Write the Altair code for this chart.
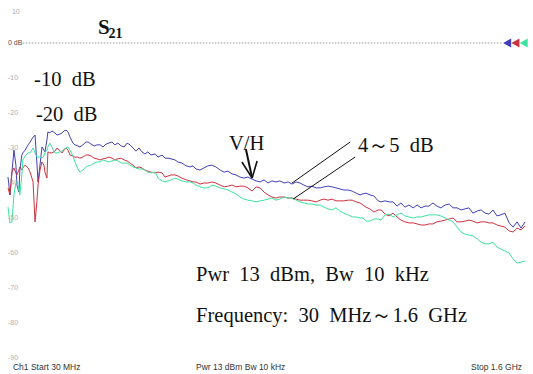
import altair as alt
import pandas as pd

# Swept frequency points (MHz) shared by the three S21 traces
freq_mhz = [
    33, 39, 45, 51, 57, 60, 66, 69, 75, 78,
    85, 94, 100, 109, 115, 121, 124, 130, 136, 142,
    145, 151, 154, 160, 166, 175, 182, 191, 197, 203,
    209, 215, 221, 230, 236, 245, 251, 260, 269, 276,
    285, 294, 303, 312,
    321, 330, 339, 348, 357, 366, 376, 385, 394, 403, 412, 421, 430, 439, 448, 457, 466,
    479, 488, 500, 509, 518, 527, 539, 548, 560, 573, 585, 594, 603,
    615, 627, 639, 651, 663, 676, 688, 700, 712, 724, 736, 748, 760, 773, 785, 797,
    809, 821, 833, 845, 857, 870, 882, 894, 906, 918, 930, 942, 954, 967, 979, 991,
    1003, 1015, 1027, 1039, 1051, 1064, 1076, 1088, 1100,
    1109, 1118, 1130, 1142, 1155,
    1164, 1176, 1188, 1200, 1212, 1224, 1236, 1248, 1261, 1273, 1285, 1297, 1309, 1321,
    1333, 1345, 1358, 1370, 1382, 1394, 1406, 1418, 1430, 1442, 1455, 1467, 1479, 1491,
    1503, 1515, 1527, 1539, 1552, 1564, 1576, 1588, 1600,
]

# S21 magnitude (dB), blue trace
s21_blue = [
    -38.3, -43.4, -36.9, -30.6, -34.9, -40.6, -42.6, -36.3, -32.0, -31.4,
    -30.6, -29.1, -28.3, -26.9, -26.3, -34.9, -39.7, -34.9, -29.7, -30.6,
    -31.1, -27.7, -25.4, -25.7, -25.1, -25.7, -26.3, -26.0, -25.7, -25.1,
    -24.9, -25.4, -26.9, -28.6, -29.1, -29.4, -29.7, -29.1, -28.3, -28.3,
    -28.9, -29.4, -29.1, -29.1,
    -29.7, -28.9, -28.6, -28.3, -29.1, -28.6, -29.4, -29.7, -28.6, -29.1, -30.0, -30.9,
    -30.0, -31.1, -31.7, -31.1, -32.0,
    -31.7, -32.6, -32.0, -32.9, -32.9, -33.1, -33.4, -34.0, -34.3, -35.1, -35.4, -35.1, -36.0,
    -36.3, -35.7, -35.1, -34.9, -35.4, -36.3, -36.9, -36.6, -37.4, -37.7,
    -38.3, -38.6, -38.3, -38.9, -39.4, -39.7, -39.1, -40.0, -39.4, -39.7,
    -39.4, -40.0, -39.7, -40.3, -39.7, -40.0, -40.6, -41.1, -40.9, -41.4,
    -41.4, -41.1, -40.9, -41.1, -41.4, -41.7, -42.0, -42.0, -42.3, -42.9,
    -43.4,
    -43.1, -42.9, -43.4, -43.7, -45.1,
    -45.4, -45.1, -45.4, -45.4, -46.6, -45.7, -46.9, -46.3, -47.1, -46.3,
    -47.1, -46.6, -46.6, -45.7, -46.6, -47.1, -46.3, -46.0, -47.1, -47.1,
    -47.7, -47.4, -47.1, -48.6, -48.0, -47.7, -48.6, -48.9, -47.7, -49.4,
    -49.1, -48.6, -51.4, -52.6, -51.1, -52.9, -51.1,
]

# S21 magnitude (dB), red trace
s21_red = [
    -41.4, -43.4, -36.9, -35.7, -37.1, -37.7, -36.3, -35.4, -36.3, -35.7,
    -34.9, -35.7, -36.9, -39.7, -51.1, -44.9, -40.6, -36.3, -34.0, -34.9,
    -36.9, -38.6, -31.1, -31.4, -31.4, -30.9, -30.0, -30.9, -31.4, -30.6,
    -30.0, -30.6, -32.0, -32.3, -32.6, -32.6, -32.9, -32.6, -32.0, -32.0,
    -32.3, -32.9, -33.1, -33.4,
    -33.1, -32.9, -32.6, -32.9, -33.4, -33.1, -32.9, -33.4, -33.7, -34.3, -34.9, -35.7,
    -35.4, -35.7, -36.3, -36.6, -36.9,
    -37.1, -36.9, -37.1, -38.3, -38.0, -37.7, -37.7, -38.0, -38.6, -39.1, -39.4, -39.7, -39.7,
    -40.3, -40.0, -40.0, -39.7, -40.0, -40.6, -41.1, -40.9, -40.6, -41.1,
    -40.9, -40.9, -41.4, -42.3, -41.1, -41.4, -42.6, -43.4, -44.0, -44.3,
    -44.0, -44.0, -44.3, -44.3, -44.6, -44.9, -44.9, -44.9, -45.1, -45.4,
    -44.9, -44.6, -44.9, -44.6, -45.1, -45.1, -45.1, -44.9, -44.9, -45.4,
    -45.7,
    -46.3, -46.9, -47.4, -48.3, -47.7,
    -47.7, -48.9, -49.4, -48.6, -49.7, -50.6, -51.1, -51.4, -51.4, -51.7,
    -52.0, -52.0, -51.7, -51.7, -51.1, -50.9, -50.6, -50.3, -50.0, -51.1,
    -51.1, -50.9, -50.6, -50.9, -51.4, -51.1, -51.1, -51.4, -51.4, -52.0,
    -52.3, -52.6, -53.7, -54.0, -52.9, -53.4, -52.3,
]

# S21 magnitude (dB), green trace
s21_green = [
    -46.9, -51.4, -51.1, -43.4, -40.0, -39.7, -42.0, -43.4, -37.7, -33.4,
    -32.3, -31.4, -31.4, -30.0, -31.4, -32.6, -32.6, -32.6, -32.9, -32.3,
    -31.4, -30.6, -29.7, -28.6, -29.7, -31.4, -31.4, -31.1, -30.9, -30.3,
    -30.0, -29.7, -30.6, -32.3, -34.0, -36.0, -36.9, -36.3, -35.4, -35.1,
    -34.9, -34.3, -34.0, -34.0,
    -33.4, -33.7, -34.0, -33.7, -33.4, -33.7, -34.3, -34.3, -34.3, -34.9, -35.4, -35.7,
    -36.0, -36.0, -36.3, -36.9, -37.1,
    -36.9, -38.6, -39.4, -39.7, -39.4, -39.1, -38.6, -38.9, -39.4, -39.7, -39.7, -40.0, -40.6,
    -41.1, -41.4, -41.4, -40.6, -40.9, -41.4, -41.7, -42.0, -42.6, -43.1,
    -44.0, -44.6, -44.9, -45.1, -45.4, -45.1, -44.9, -44.6, -44.3, -44.9,
    -44.6, -44.0, -44.3, -44.3, -44.9, -45.4, -45.7, -46.0, -46.0, -46.3,
    -46.3, -46.9, -47.4, -47.7, -47.1, -48.0, -48.6, -49.1, -49.7, -49.7,
    -50.0,
    -50.0, -50.9, -50.9, -50.3, -50.3,
    -50.6, -49.1, -48.9, -49.7, -49.1, -48.6, -49.4, -49.7, -50.0, -49.7,
    -49.7, -49.4, -49.1, -49.1, -49.1, -49.4, -50.0, -50.6, -51.1, -52.6,
    -54.0, -54.6, -54.9, -55.1, -56.0, -56.9, -57.4, -57.4, -56.9, -58.3,
    -58.9, -59.4, -60.0, -61.7, -62.9, -62.6, -62.3,
]

trace_names = ["Trace 1", "Trace 2", "Trace 3"]
trace_colors = ["#4040b8", "#cc3340", "#3ee2a0"]

# Graticule
db_ticks = [10, 0, -10, -20, -30, -40, -50, -60, -70, -80, -90]
db_tick_labels = ["10", "0 dB", "-10", "-20", "-30", "-40", "-50", "-60", "-70", "-80", "-90"]
freq_ticks = [30, 187, 344, 501, 658, 815, 972, 1129, 1286, 1443, 1600]

assert len(freq_mhz) == len(s21_blue) == len(s21_red) == len(s21_green)

rows = []
for name, series in zip(trace_names, [s21_blue, s21_red, s21_green]):
    for f, v in zip(freq_mhz, series):
        rows.append({"freq": f, "db": v, "trace": name})
traces = pd.DataFrame(rows)

x_scale = alt.Scale(domain=[30, 1600], nice=False, zero=False)
y_scale = alt.Scale(domain=[-90, 10], nice=False, zero=False)
color_scale = alt.Scale(domain=trace_names, range=trace_colors)

trace_layer = alt.Chart(traces).mark_line(strokeWidth=1, clip=False).encode(
    x=alt.X("freq:Q", scale=x_scale,
            axis=alt.Axis(values=freq_ticks, grid=True, labels=False, ticks=False,
                          domain=False, title=None, gridColor="#dcdcdc", gridWidth=1)),
    y=alt.Y("db:Q", scale=y_scale,
            axis=alt.Axis(values=db_ticks, grid=True, labels=False, ticks=False,
                          domain=False, title=None, gridColor="#dcdcdc", gridWidth=1)),
    color=alt.Color("trace:N", scale=color_scale, legend=None),
    order=alt.Order("freq:Q"),
)

# Reference level (dotted) and channel markers at 0 dB
ref_df = pd.DataFrame({"f1": [78], "f2": [1533], "db": [0]})
ref_line = alt.Chart(ref_df).mark_rule(color="#9a9a9a", strokeDash=[1.5, 1.5], strokeWidth=1).encode(
    x=alt.X("f1:Q", scale=x_scale, axis=None), x2="f2:Q",
    y=alt.Y("db:Q", scale=y_scale, axis=None),
)

marker_df = pd.DataFrame({"freq": [1546, 1571, 1596], "db": [0, 0, 0], "trace": trace_names})
markers = alt.Chart(marker_df).mark_point(shape="triangle-left", filled=True, size=85,
                                          opacity=1, clip=False).encode(
    x=alt.X("freq:Q", scale=x_scale, axis=None),
    y=alt.Y("db:Q", scale=y_scale, axis=None),
    color=alt.Color("trace:N", scale=alt.Scale(domain=trace_names,
                                               range=["#1010e8", "#e02828", "#22e0a0"]),
                    legend=None),
)

# In-graticule scale labels
tick_df = pd.DataFrame({"db": db_ticks[1:], "label": db_tick_labels[1:],
                        "freq": [33] * (len(db_ticks) - 1)})
tick_text = alt.Chart(tick_df).mark_text(align="left", baseline="middle", font="Liberation Sans",
                                         fontSize=7).encode(
    x=alt.X("freq:Q", scale=x_scale, axis=None),
    y=alt.Y("db:Q", scale=y_scale, axis=None),
    text="label:N",
    color=alt.condition(alt.datum.db == 0, alt.value("#505050"), alt.value("#b0b0b0")),
)
top_tick_df = pd.DataFrame({"db": [db_ticks[0]], "label": [db_tick_labels[0]], "freq": [45]})
top_tick = alt.Chart(top_tick_df).mark_text(align="left", baseline="middle", font="Liberation Sans",
                                            fontSize=7, color="#b0b0b0", dy=4).encode(
    x=alt.X("freq:Q", scale=x_scale, axis=None),
    y=alt.Y("db:Q", scale=y_scale, axis=None),
    text="label:N",
)

# Annotation texts (serif)
NB = "\u00a0"
note_df = pd.DataFrame({
    "freq": [112, 118, 703, 1094, 603, 603],
    "db": [-10.6, -20.6, -28.9, -29.4, -66.3, -78.0],
    "label": [
        "-10" + NB + NB + "dB",
        "-20" + NB + NB + "dB",
        "V/H",
        "4～5" + NB + NB + "dB",
        "Pwr" + NB + " 13" + NB + " dBm," + NB + " Bw" + NB + " 10" + NB + " kHz",
        "Frequency:" + NB + " 30" + NB + " MHz～1.6" + NB + " GHz",
    ],
})
notes = alt.Chart(note_df).mark_text(align="left", baseline="middle", font="Liberation Serif",
                                     fontSize=20.5, color="#111111").encode(
    x=alt.X("freq:Q", scale=x_scale, axis=None),
    y=alt.Y("db:Q", scale=y_scale, axis=None),
    text="label:N",
)

s_df = pd.DataFrame({"freq": [306], "db": [4.3], "label": ["S"]})
s_text = alt.Chart(s_df).mark_text(align="left", baseline="middle", font="Liberation Serif",
                                   fontSize=21, fontWeight="bold", color="#111111").encode(
    x=alt.X("freq:Q", scale=x_scale, axis=None),
    y=alt.Y("db:Q", scale=y_scale, axis=None),
    text="label:N",
)
sub_df = pd.DataFrame({"freq": [338], "db": [2.6], "label": ["21"]})
sub_text = alt.Chart(sub_df).mark_text(align="left", baseline="middle", font="Liberation Serif",
                                       fontSize=14, fontWeight="bold", color="#111111").encode(
    x=alt.X("freq:Q", scale=x_scale, axis=None),
    y=alt.Y("db:Q", scale=y_scale, axis=None),
    text="label:N",
)

# Leader lines and arrow
seg_df = pd.DataFrame({
    "f1": [894, 897, 754, 742, 788],
    "d1": [-40.0, -44.6, -30.3, -34.0, -33.7],
    "f2": [1070, 1085, 773, 773, 773],
    "d2": [-28.3, -32.6, -38.6, -38.6, -38.6],
    "w": [1.0, 1.0, 2.0, 1.6, 1.6],
})
segments = alt.Chart(seg_df).mark_rule(color="#111111").encode(
    x=alt.X("f1:Q", scale=x_scale, axis=None), x2="f2:Q",
    y=alt.Y("d1:Q", scale=y_scale, axis=None), y2="d2:Q",
    strokeWidth=alt.StrokeWidth("w:Q", scale=None, legend=None),
)

# Instrument status line below the graticule
status_df = pd.DataFrame({
    "freq": [48, 603, 1591],
    "db": [-92.6, -92.6, -92.6],
    "label": ["Ch1  Start  30 MHz", "Pwr 13 dBm  Bw 10 kHz", "Stop  1.6 GHz"],
    "align": ["left", "left", "right"],
})
status_left = alt.Chart(status_df[status_df["align"] == "left"]).mark_text(
    align="left", baseline="middle", font="Liberation Sans", fontSize=8.5, color="#333333").encode(
    x=alt.X("freq:Q", scale=x_scale, axis=None),
    y=alt.Y("db:Q", scale=y_scale, axis=None),
    text="label:N",
)
status_right = alt.Chart(status_df[status_df["align"] == "right"]).mark_text(
    align="right", baseline="middle", font="Liberation Sans", fontSize=8.5, color="#333333").encode(
    x=alt.X("freq:Q", scale=x_scale, axis=None),
    y=alt.Y("db:Q", scale=y_scale, axis=None),
    text="label:N",
)

chart = alt.layer(
    trace_layer, ref_line, markers, tick_text, top_tick, segments,
    notes, s_text, sub_text, status_left, status_right,
).properties(
    width=518, height=350,
    autosize=alt.AutoSizeParams(type="none"),
    padding={"left": 7, "top": 8, "right": 8, "bottom": 16},
    background="white",
).configure_view(stroke=None)

chart.save("out.html", embed_options={"renderer": "svg", "actions": False})
